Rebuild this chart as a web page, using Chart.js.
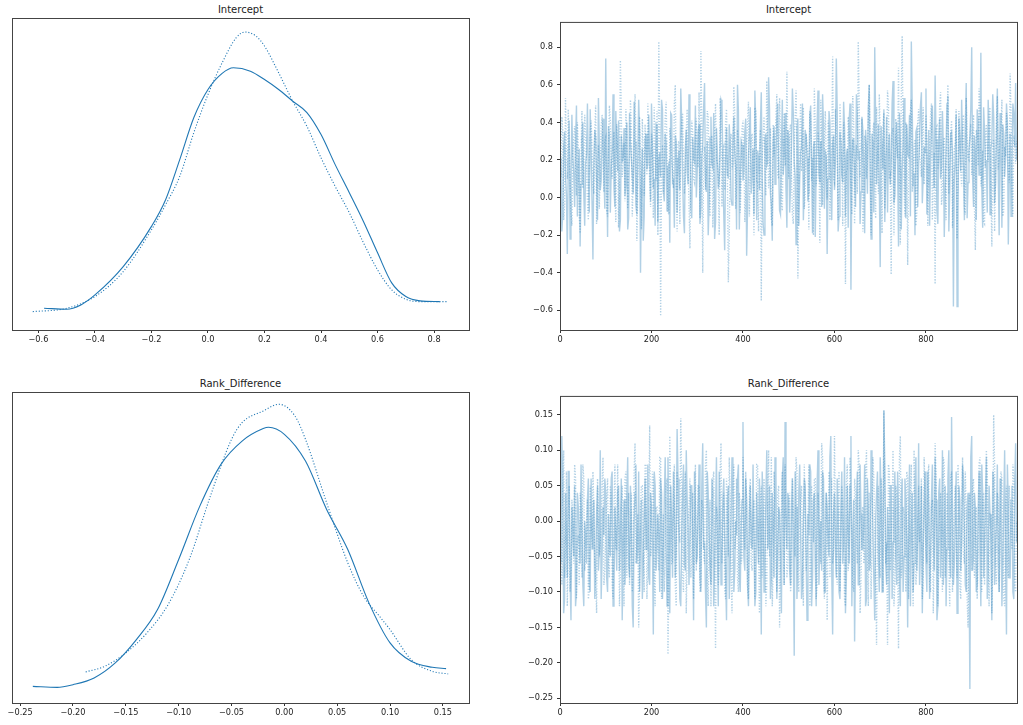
<!DOCTYPE html>
<html>
<head>
<meta charset="utf-8">
<script src="https://cdn.jsdelivr.net/npm/chart.js@4.4.1/dist/chart.umd.min.js"></script>
<style>
  html, body { margin: 0; padding: 0; background: #fff; width: 1023px; height: 725px; overflow: hidden; }
  .panel { position: absolute; }
  .title { position: absolute; text-align: center; font: 10px "DejaVu Sans", sans-serif; color: #222; line-height: 12px; white-space: nowrap; }
</style>
</head>
<body>
<div class="title" style="left:12px;width:457px;top:4px">Intercept</div>
<div class="title" style="left:560px;width:457px;top:4px">Intercept</div>
<div class="title" style="left:12px;width:457px;top:378px">Rank_Difference</div>
<div class="title" style="left:560px;width:457px;top:378px">Rank_Difference</div>
<canvas id="kde-intercept" class="panel"></canvas>
<canvas id="trace-intercept" class="panel"></canvas>
<canvas id="kde-rank" class="panel"></canvas>
<canvas id="trace-rank" class="panel"></canvas>
<script>
// tick positions
const kdeTicksIntercept = [-0.6, -0.4, -0.2, 0, 0.2, 0.4, 0.6, 0.8];
const kdeTicksRank = [-0.25, -0.2, -0.15, -0.1, -0.05, 0, 0.05, 0.1, 0.15];
const traceXTicks = [0, 200, 400, 600, 800];
const traceYTicksIntercept = [-0.6, -0.4, -0.2, 0, 0.2, 0.4, 0.6, 0.8];
const traceYTicksRank = [-0.25, -0.2, -0.15, -0.1, -0.05, 0, 0.05, 0.1, 0.15];

// KDE, Intercept (chain 0 solid, chain 1 dotted)
const interceptKdeX0 = [-0.58, -0.5, -0.45, -0.4, -0.3, -0.2, -0.15, -0.1, -0.05, 0.0, 0.05, 0.09, 0.15, 0.2, 0.25, 0.3, 0.35, 0.4, 0.45, 0.5, 0.55, 0.6, 0.65, 0.7, 0.75, 0.82];
const interceptKdeY0 = [0.056, 0.049, 0.081, 0.155, 0.365, 0.663, 0.861, 1.158, 1.470, 1.678, 1.797, 1.839, 1.814, 1.752, 1.678, 1.591, 1.507, 1.344, 1.121, 0.913, 0.700, 0.467, 0.244, 0.143, 0.111, 0.105];
const interceptKdeX1 = [-0.62, -0.5, -0.4, -0.3, -0.2, -0.15, -0.1, -0.05, 0.0, 0.05, 0.1, 0.13, 0.17, 0.2, 0.25, 0.3, 0.35, 0.4, 0.45, 0.5, 0.55, 0.6, 0.65, 0.7, 0.75, 0.85];
const interceptKdeY1 = [0.031, 0.056, 0.143, 0.328, 0.638, 0.824, 1.034, 1.359, 1.641, 1.876, 2.062, 2.104, 2.074, 2.0, 1.802, 1.591, 1.405, 1.171, 0.960, 0.764, 0.542, 0.341, 0.192, 0.123, 0.105, 0.105];

// KDE, Rank_Difference
const rankKdeX0 = [-0.238, -0.215, -0.2, -0.18, -0.16, -0.14, -0.12, -0.1, -0.08, -0.06, -0.04, -0.02, -0.015, 0.0, 0.02, 0.04, 0.06, 0.08, 0.1, 0.12, 0.14, 0.153];
const rankKdeY0 = [0.053, 0.032, 0.089, 0.232, 0.550, 1.046, 1.683, 2.746, 3.878, 4.764, 5.259, 5.523, 5.551, 5.402, 4.834, 3.808, 2.958, 1.825, 0.975, 0.584, 0.457, 0.429];
const rankKdeX1 = [-0.188, -0.17, -0.15, -0.13, -0.11, -0.09, -0.07, -0.05, -0.04, -0.02, -0.005, 0.01, 0.02, 0.04, 0.06, 0.075, 0.09, 0.1, 0.12, 0.14, 0.155];
const rankKdeY1 = [0.359, 0.478, 0.763, 1.188, 1.789, 2.746, 4.091, 5.296, 5.650, 5.897, 6.039, 5.791, 5.296, 3.950, 2.675, 1.966, 1.541, 1.258, 0.621, 0.372, 0.317];

// traces: "Even" arrays are draws 0, 4, 8, ... and "Odd" arrays are draws 2, 6, 10, ...
const drawStep = 4;
const interceptTrace0Even = [
  0.05,-0.18,0.27,0.12,-0.3,0.41,0.08,0.22,-0.05,0.49,0.15,-0.26,0.31,0.02,0.18,0.5,-0.08,0.24,-0.33,0.36,0.1,0.53,0.04,0.29,0.12,
  0.74,-0.21,0.33,0.15,0.55,-0.05,0.28,0.41,-0.12,0.19,0.37,0.06,-0.17,0.45,0.21,0.02,0.3,-0.09,0.52,-0.4,0.26,-0.1,0.34,0.18,0.22,
  0.5,0.05,-0.15,0.38,0.2,0.11,0.47,-0.02,0.29,0.16,-0.24,0.44,0.09,0.33,-0.08,0.25,0.58,0.12,-0.19,0.36,0.07,0.3,-0.11,0.21,0.49,
  0.14,0.39,-0.06,0.27,0.61,0.03,-0.2,0.32,0.18,0.45,-0.13,0.24,0.08,0.52,0.19,-0.28,0.37,0.11,0.26,-0.04,0.43,0.16,0.6,-0.17,0.3,
  0.09,0.35,-0.31,0.22,0.48,0.13,-0.09,0.4,0.25,0.04,0.56,-0.14,0.31,0.17,0.64,0.02,-0.23,0.38,0.2,0.5,-0.07,0.28,0.12,0.45,-0.16,
  0.33,0.06,0.58,0.19,-0.25,0.42,0.1,0.27,-0.12,0.36,0.21,0.03,0.49,-0.19,0.3,0.14,0.57,0.08,-0.05,0.39,0.24,-0.3,0.46,0.15,0.29,
  0.04,0.74,-0.18,0.35,0.12,0.51,-0.1,0.26,0.41,-0.49,0.31,0.09,0.55,0.2,-0.14,0.43,0.16,0.36,0.02,0.6,-0.22,0.28,0.8,0.07,0.39,
  -0.37,0.25,0.47,0.11,-0.08,0.34,0.19,0.62,0.01,0.4,-0.26,0.3,0.15,0.53,-0.11,0.23,0.44,0.83,0.06,-0.2,0.37,0.18,0.49,-0.03,0.27,
  0.58,0.13,-0.15,0.39,0.22,0.65,-0.07,0.31,0.1,0.46,-0.21,0.27,0.54,0.05,0.35,-0.58,0.2,-0.58,0.42,0.14,0.29,-0.12,0.61,0.08,0.33,
  0.8,-0.05,0.24,0.47,0.12,0.77,-0.16,0.36,0.2,0.52,-0.09,0.3,0.43,0.07,0.58,-0.2,0.26,0.39,0.11,0.5,-0.25,0.34,0.17,0.45,0.61
];
const interceptTrace0Odd = [
  0.21,-0.09,0.35,0.02,0.18,-0.22,0.44,0.13,0.3,-0.1,0.26,0.07,0.4,-0.15,0.23,0.11,0.47,-0.02,0.19,0.32,-0.12,0.28,0.09,0.42,-0.06,
  0.17,0.38,-0.08,0.25,0.05,0.46,0.14,-0.18,0.33,0.22,0.01,0.4,-0.11,0.29,0.12,0.51,-0.04,0.2,0.36,0.06,-0.23,0.31,0.15,0.44,-0.02,
  0.27,0.1,0.39,-0.13,0.24,0.52,0.03,0.34,-0.07,0.18,0.45,0.08,-0.16,0.3,0.21,0.04,0.41,-0.1,0.26,0.14,0.55,-0.05,0.32,0.19,0.0,
  0.35,-0.14,0.22,0.48,0.09,0.3,-0.03,0.43,0.16,-0.22,0.37,0.05,0.27,0.5,-0.09,0.2,0.12,0.39,-0.01,0.31,0.24,-0.17,0.46,0.08,0.28,
  0.15,0.42,-0.06,0.33,0.02,0.26,0.57,-0.12,0.21,0.38,0.1,-0.2,0.34,0.19,0.47,-0.04,0.29,0.07,0.41,0.16,-0.09,0.52,0.23,0.05,0.36,
  -0.08,0.28,0.45,0.11,0.37,-0.15,0.24,0.5,0.06,0.32,-0.02,0.43,0.17,0.27,-0.21,0.39,0.13,0.3,0.55,-0.06,0.22,0.1,0.4,-0.12,0.33,
  0.19,0.46,-0.1,0.29,0.08,0.37,0.22,-0.16,0.5,0.14,0.31,-0.05,0.44,0.25,0.03,0.36,-0.19,0.27,0.48,0.12,0.34,-0.08,0.41,0.2,0.06,
  0.38,0.15,-0.13,0.43,0.26,0.07,0.5,-0.03,0.32,0.18,0.45,-0.17,0.28,0.09,0.39,0.22,-0.1,0.47,0.13,0.35,-0.05,0.3,0.56,0.11,0.24,
  -0.09,0.36,0.2,0.49,0.05,0.31,-0.14,0.42,0.17,0.27,0.03,0.5,-0.18,0.34,0.23,0.1,0.44,-0.07,0.29,0.52,0.15,0.38,-0.11,0.25,0.47,
  0.1,0.33,-0.12,0.41,0.22,0.05,0.48,0.16,-0.08,0.37,0.26,0.55,-0.03,0.3,0.14,0.45,-0.16,0.34,0.21,0.4,0.09,-0.1,0.5,0.27,0.2
];
const interceptTrace1Even = [
  0.2,0.43,-0.12,0.53,0.1,0.3,-0.07,0.24,0.38,0.01,0.27,-0.19,0.46,0.14,0.33,-0.02,0.22,0.41,0.06,0.35,-0.14,0.28,0.17,0.44,0.03,
  0.32,-0.1,0.49,0.18,0.26,0.04,0.39,-0.16,0.73,0.11,0.29,0.47,-0.06,0.21,0.36,0.08,0.55,-0.23,0.3,0.15,0.42,0.01,0.25,0.5,0.09,
  0.34,-0.11,0.22,0.46,0.83,-0.63,0.28,0.13,0.51,-0.08,0.37,0.19,0.05,0.6,-0.18,0.3,0.24,0.45,0.02,0.35,0.16,-0.27,0.41,0.1,0.31,
  0.2,0.56,0.78,-0.4,0.27,0.12,0.43,-0.1,0.33,0.07,0.5,0.18,-0.2,0.38,0.25,0.04,0.47,-0.45,0.3,0.15,0.59,-0.06,0.36,0.22,0.09,
  0.41,-0.13,0.28,0.51,0.16,0.34,-0.2,0.46,0.08,0.25,-0.55,0.3,0.19,0.62,0.05,0.37,-0.15,0.22,0.43,0.12,0.53,-0.03,0.31,0.17,0.67,
  0.1,0.39,-0.09,0.26,0.57,-0.43,0.33,0.14,0.48,0.02,0.29,-0.17,0.44,0.21,0.58,0.06,0.35,-0.24,0.27,0.12,0.46,-0.01,0.37,0.19,0.75,
  0.08,0.31,-0.12,0.5,0.23,0.4,-0.46,0.15,0.34,0.06,0.54,-0.14,0.28,0.83,0.11,0.42,-0.07,0.3,0.19,0.6,-0.2,0.36,0.13,0.48,0.02,
  0.33,-0.19,0.45,0.22,0.57,0.1,-0.41,0.37,0.16,0.28,0.69,-0.25,0.86,0.05,0.4,-0.36,0.24,0.52,0.13,0.31,-0.08,0.47,0.19,0.35,0.07,
  0.44,-0.15,0.27,0.5,0.11,-0.46,0.38,0.2,0.56,0.03,0.32,-0.12,0.6,0.17,0.41,0.08,0.29,-0.22,0.46,0.14,0.35,-0.05,0.53,0.21,0.3,
  0.12,0.44,-0.28,0.33,0.58,0.06,0.25,-0.14,0.39,0.19,0.48,-0.26,0.31,0.09,0.54,0.22,0.36,-0.1,0.27,0.45,0.14,0.66,0.05,0.33,0.18
];
const interceptTrace1Odd = [
  0.11,0.36,-0.04,0.25,0.47,0.08,-0.15,0.32,0.19,0.4,-0.09,0.23,0.05,0.44,0.17,-0.12,0.34,0.27,0.02,0.49,0.13,-0.06,0.38,0.21,0.3,
  -0.07,0.24,0.41,0.1,0.35,-0.13,0.28,0.06,0.45,0.2,-0.02,0.37,0.15,0.52,-0.1,0.26,0.33,0.04,0.43,-0.17,0.22,0.39,0.12,0.3,-0.05,
  0.27,0.48,0.09,-0.2,0.36,0.17,0.02,0.43,0.25,-0.09,0.32,0.14,0.5,0.07,0.29,-0.14,0.4,0.2,0.11,0.47,-0.03,0.26,0.35,0.08,0.42,
  0.16,-0.11,0.38,0.23,0.04,0.46,0.13,0.3,-0.16,0.35,0.21,0.09,0.53,-0.05,0.27,0.4,0.12,-0.21,0.34,0.18,0.44,0.06,0.29,-0.08,0.37,
  0.24,0.05,0.4,-0.1,0.31,0.17,0.48,0.08,-0.18,0.36,0.22,0.43,0.01,0.28,0.14,-0.12,0.39,0.25,0.55,0.1,0.33,-0.07,0.45,0.19,0.26,
  0.35,0.12,-0.14,0.42,0.27,0.03,0.5,0.18,-0.06,0.34,0.23,0.46,0.09,-0.2,0.38,0.15,0.29,0.52,-0.04,0.31,0.2,0.41,-0.12,0.26,0.1,
  0.47,0.22,0.05,0.36,-0.15,0.29,0.14,0.43,0.26,-0.09,0.39,0.18,0.02,0.51,0.24,-0.18,0.33,0.1,0.45,0.28,0.07,0.4,-0.11,0.3,0.55,
  0.16,0.38,-0.06,0.25,0.49,0.12,0.34,-0.2,0.42,0.21,0.06,0.53,0.3,-0.1,0.37,0.18,0.46,0.03,0.27,-0.15,0.4,0.22,0.11,0.48,0.26,
  0.31,0.08,0.43,-0.12,0.24,0.37,0.15,0.5,-0.04,0.28,0.19,0.41,0.02,0.35,-0.16,0.26,0.47,0.12,0.33,0.06,0.44,-0.09,0.3,0.2,0.39,
  0.25,-0.05,0.36,0.17,0.48,0.1,-0.13,0.32,0.23,0.45,0.04,0.29,-0.18,0.4,0.15,0.34,0.52,-0.07,0.22,0.37,0.08,0.43,-0.1,0.28,0.3
];
const rankTrace0Even = [
  -0.03,0.12,-0.13,0.04,-0.08,0.07,-0.14,-0.01,0.05,-0.1,0.02,-0.06,0.08,-0.12,-0.02,0.03,-0.09,0.06,-0.04,-0.11,0.01,-0.07,0.1,-0.05,-0.02,
  0.04,-0.1,-0.03,0.06,-0.12,0.02,-0.07,0.05,-0.01,-0.14,0.03,-0.05,0.09,-0.08,0.0,-0.15,0.04,-0.06,0.07,-0.02,-0.11,0.01,-0.04,0.08,-0.09,
  0.02,-0.16,0.05,-0.07,-0.02,0.06,-0.11,0.03,-0.04,0.09,-0.13,0.0,0.07,-0.08,0.13,-0.03,-0.12,0.04,-0.06,0.1,-0.01,-0.09,0.05,-0.14,0.02,
  -0.05,0.08,-0.1,0.11,-0.03,-0.15,0.04,-0.07,0.06,-0.12,0.01,-0.04,0.07,-0.09,0.03,-0.02,-0.14,0.05,-0.06,0.09,-0.1,0.0,0.06,-0.08,-0.01,
  0.14,-0.07,0.03,-0.12,0.05,-0.04,0.08,-0.1,-0.02,0.06,-0.16,0.02,-0.06,0.1,-0.03,-0.11,0.04,-0.08,0.07,-0.05,0.01,-0.13,0.09,0.14,-0.04,
  0.03,-0.09,0.06,-0.19,0.02,-0.06,0.08,-0.11,0.0,0.05,-0.14,-0.02,0.07,-0.08,0.04,-0.12,0.1,-0.03,-0.07,0.06,-0.1,0.02,-0.05,0.12,-0.16,
  0.04,-0.08,0.01,-0.11,0.07,-0.03,-0.13,0.05,-0.06,0.12,-0.02,-0.17,0.03,-0.09,0.08,-0.04,0.0,-0.12,0.06,-0.07,0.1,-0.01,-0.14,0.04,-0.05,
  0.09,-0.1,0.155,-0.06,0.02,-0.13,0.05,-0.03,0.07,-0.09,0.01,-0.12,0.06,-0.05,0.03,-0.15,0.08,-0.02,-0.1,0.05,-0.07,0.11,-0.04,-0.13,0.02,
  -0.06,0.07,-0.11,0.03,-0.02,0.09,-0.14,0.04,-0.08,0.1,-0.03,-0.12,0.06,-0.05,0.147,-0.09,0.01,-0.13,0.05,-0.07,0.08,-0.01,-0.1,0.04,-0.237,
  0.12,-0.05,0.02,-0.09,0.07,-0.12,0.04,-0.03,0.09,-0.07,0.01,-0.14,0.06,-0.04,0.08,-0.1,0.03,-0.06,0.1,-0.16,0.02,-0.08,0.05,-0.11,0.11
];
const rankTrace0Odd = [
  -0.06,0.05,-0.11,-0.02,0.07,-0.08,0.02,-0.05,-0.12,0.04,-0.03,0.08,-0.09,0.0,-0.06,0.06,-0.1,-0.01,0.03,-0.07,0.05,-0.04,-0.11,0.02,0.06,
  -0.08,0.01,-0.05,0.07,-0.1,-0.02,0.04,-0.07,0.06,-0.03,-0.09,0.03,-0.06,0.05,-0.12,0.0,0.08,-0.04,-0.1,0.03,-0.06,0.06,-0.02,-0.08,0.04,
  -0.03,0.07,-0.07,0.01,-0.1,0.04,-0.05,0.09,-0.12,-0.01,0.05,-0.08,0.02,-0.04,0.06,-0.11,-0.02,0.08,-0.07,0.03,-0.09,0.05,-0.03,0.07,-0.06,
  0.02,-0.08,0.05,-0.04,-0.1,0.07,-0.02,-0.09,0.04,-0.06,0.09,-0.12,0.01,-0.05,0.06,-0.08,0.03,-0.11,0.0,0.05,-0.07,-0.02,0.08,-0.1,0.03,
  -0.05,0.06,-0.09,0.01,-0.03,0.08,-0.12,0.04,-0.06,-0.01,0.07,-0.1,0.03,-0.04,0.05,-0.08,0.0,0.09,-0.11,0.02,-0.05,0.06,-0.09,0.01,0.04,
  -0.07,0.02,-0.04,0.07,-0.11,0.04,-0.02,-0.09,0.06,-0.05,0.01,0.08,-0.12,0.03,-0.06,0.05,-0.09,0.0,0.07,-0.1,0.04,-0.03,0.09,-0.07,0.01,
  -0.04,0.06,-0.1,0.02,-0.06,0.09,-0.08,-0.01,0.05,-0.12,0.03,-0.05,0.07,-0.09,0.01,-0.04,0.08,-0.11,0.02,-0.06,0.05,-0.08,0.0,0.07,-0.1,
  0.03,-0.06,0.08,-0.09,-0.02,0.05,-0.11,0.01,-0.05,0.07,-0.08,0.03,-0.1,0.06,-0.03,0.0,-0.12,0.04,-0.06,0.09,-0.02,-0.09,0.05,-0.04,0.07,
  -0.1,0.02,-0.05,0.08,-0.07,0.03,-0.12,0.06,-0.02,-0.09,0.05,-0.04,0.1,-0.08,0.01,-0.06,0.07,-0.11,0.03,-0.03,0.06,-0.09,0.02,-0.05,0.09,
  -0.07,0.04,-0.1,0.01,-0.04,0.08,-0.08,0.03,-0.11,0.05,-0.02,0.07,-0.09,0.0,-0.06,0.06,-0.12,0.02,-0.05,0.08,-0.08,0.03,-0.1,0.05,-0.03
];
const rankTrace1Even = [
  0.02,-0.09,0.1,-0.04,-0.12,0.05,-0.07,0.01,0.08,-0.11,-0.02,0.04,-0.08,0.06,-0.05,0.03,-0.1,0.0,0.07,-0.06,-0.13,0.02,-0.03,0.05,-0.09,
  -0.01,0.06,-0.08,0.03,-0.11,0.08,-0.04,0.01,-0.07,0.05,-0.12,0.07,-0.02,-0.09,0.04,-0.06,0.11,-0.03,-0.15,0.02,0.05,-0.1,0.08,-0.05,0.135,
  -0.04,0.06,-0.12,0.02,-0.07,0.09,-0.02,-0.1,0.05,-0.188,0.12,-0.06,0.03,-0.09,0.07,-0.01,0.145,-0.08,0.04,-0.13,0.0,0.06,-0.05,-0.11,0.08,
  -0.03,0.05,-0.09,0.02,-0.06,0.1,-0.12,0.03,-0.04,0.07,-0.18,0.01,-0.07,0.11,-0.02,-0.1,0.06,-0.05,0.03,-0.13,0.08,-0.01,-0.08,0.04,-0.06,
  0.09,-0.04,0.02,-0.11,0.06,-0.07,0.03,-0.02,0.08,-0.13,0.05,-0.05,0.01,-0.09,0.1,-0.03,-0.12,0.07,-0.06,0.04,-0.15,0.02,-0.04,0.08,-0.08,
  0.03,-0.1,0.06,-0.03,0.09,-0.07,-0.01,0.05,-0.12,0.02,-0.05,0.08,-0.09,0.0,0.06,-0.11,0.04,-0.04,0.11,-0.08,0.01,-0.14,0.07,-0.02,-0.06,
  0.12,-0.07,0.03,-0.1,0.05,-0.02,-0.12,0.08,-0.05,0.02,-0.09,0.06,-0.03,0.1,-0.13,0.01,-0.06,0.07,-0.04,0.04,-0.11,0.09,-0.01,-0.175,0.05,
  -0.08,0.03,0.157,-0.06,-0.175,0.07,-0.02,0.1,-0.09,0.04,-0.18,0.12,-0.05,0.01,-0.1,0.06,-0.03,0.08,-0.12,0.02,-0.07,0.05,-0.01,-0.11,0.09,
  -0.04,0.06,-0.09,0.02,-0.13,0.11,-0.03,-0.07,0.04,-0.1,0.08,-0.05,0.0,-0.12,0.07,-0.02,0.05,-0.08,0.03,-0.11,0.09,-0.06,0.01,-0.15,0.04,
  -0.07,0.06,-0.02,-0.11,0.08,-0.04,0.03,-0.09,0.1,-0.05,0.01,-0.13,0.15,-0.06,0.04,-0.1,0.07,-0.03,-0.12,0.05,-0.08,0.02,-0.04,0.06,-0.1
];
const rankTrace1Odd = [
  -0.05,0.04,-0.08,0.07,-0.02,-0.1,0.03,-0.06,0.06,-0.03,-0.09,0.02,0.08,-0.07,0.0,-0.11,0.05,-0.04,0.02,-0.08,0.06,-0.05,-0.01,0.09,-0.07,
  0.03,-0.06,0.05,-0.09,0.01,-0.04,0.08,-0.12,0.02,-0.05,0.06,-0.08,0.04,-0.02,-0.1,0.07,-0.06,0.01,-0.09,0.05,-0.03,0.08,-0.11,0.0,-0.05,
  0.07,-0.08,0.02,-0.05,0.09,-0.11,0.01,-0.04,0.06,-0.09,0.03,-0.06,0.08,-0.12,0.0,-0.03,0.05,-0.1,0.07,-0.05,0.02,-0.08,0.04,-0.02,-0.07,
  0.05,-0.1,0.03,-0.05,0.08,-0.08,0.0,-0.12,0.06,-0.03,0.02,-0.09,0.07,-0.06,0.04,-0.11,0.01,0.09,-0.07,0.03,-0.04,0.06,-0.1,0.02,-0.05,
  -0.02,0.07,-0.09,0.04,-0.06,0.01,-0.11,0.08,-0.04,0.03,-0.08,0.06,-0.12,0.02,-0.05,0.09,-0.07,0.0,-0.1,0.05,-0.03,0.07,-0.09,0.01,-0.06,
  0.04,-0.08,0.02,-0.05,0.07,-0.1,0.03,-0.04,0.08,-0.07,0.0,-0.12,0.05,-0.03,0.06,-0.09,0.02,-0.06,0.09,-0.11,0.04,-0.02,-0.08,0.06,-0.04,
  0.01,-0.09,0.07,-0.04,0.03,-0.11,0.05,-0.07,0.09,-0.02,-0.1,0.04,-0.06,0.08,-0.08,0.02,-0.05,0.1,-0.12,0.03,-0.03,0.06,-0.09,0.0,-0.06,
  0.06,-0.1,0.04,-0.03,0.08,-0.07,0.01,-0.12,0.05,-0.05,0.09,-0.08,0.02,-0.04,0.07,-0.11,0.03,-0.06,0.1,-0.09,0.0,-0.03,0.06,-0.08,0.04,
  -0.06,0.08,-0.1,0.03,-0.05,0.07,-0.12,0.01,-0.03,0.09,-0.08,0.04,-0.06,0.06,-0.1,0.02,-0.04,0.08,-0.09,0.0,-0.05,0.07,-0.11,0.03,-0.02,
  0.05,-0.08,0.02,-0.05,0.09,-0.1,0.04,-0.03,0.07,-0.12,0.01,-0.06,0.08,-0.09,0.03,-0.04,0.06,-0.11,0.02,-0.07,0.05,-0.02,0.08,-0.09,0.0
];

const C0 = '#1f77b4';
const TRACE_COLOR = 'rgba(31, 119, 180, 0.35)';
const tickFont = { family: 'DejaVu Sans', size: 8.2 };

// matplotlib style labels, with a real minus sign
function fmt(decimals) {
    return v => (v < 0 ? '\u2212' : '') + Math.abs(v).toFixed(decimals);
}

// all four spines like matplotlib
const spines = {
    id: 'spines',
    afterDatasetsDraw(chart) {
        const { ctx, chartArea: a } = chart;
        ctx.save();
        ctx.strokeStyle = '#444';
        ctx.lineWidth = 1;
        ctx.strokeRect(a.left + 0.5, a.top + 0.5, a.right - a.left, a.bottom - a.top);
        ctx.restore();
    }
};

function xAxis(min, max, ticks, decimals) {
    return {
        type: 'linear',
        min: min,
        max: max,
        afterBuildTicks: axis => { axis.ticks = ticks.map(v => ({ value: v })); },
        afterFit: axis => { axis.height = 20; },
        ticks: { font: tickFont, color: '#222', padding: 2, maxRotation: 0, autoSkip: false, callback: fmt(decimals) },
        grid: { drawOnChartArea: false, drawTicks: true, tickLength: 3, color: '#333' },
        border: { display: false }
    };
}

function traceY(min, max, ticks, decimals) {
    return {
        type: 'linear',
        min: min,
        max: max,
        afterBuildTicks: axis => { axis.ticks = ticks.map(v => ({ value: v })); },
        afterFit: axis => { axis.width = 50; },
        ticks: { font: tickFont, color: '#222', padding: 4, callback: fmt(decimals) },
        grid: { drawOnChartArea: false, drawTicks: true, tickLength: 3, color: '#333' },
        border: { display: false }
    };
}

function makePanel(id, box, datasets, scales, padLeft) {
    const [l, t, r, b] = box;
    const canvas = document.getElementById(id);
    canvas.width = r - l + 60;
    canvas.height = b - t + 25;
    canvas.style.left = (l - 50) + 'px';
    canvas.style.top = (t - 5) + 'px';
    new Chart(canvas.getContext('2d'), {
        type: 'line',
        data: { datasets: datasets },
        options: {
            responsive: false,
            devicePixelRatio: 1,
            animation: false,
            events: [],
            layout: { padding: { left: padLeft, top: 5, right: 10, bottom: 0 } },
            plugins: { legend: { display: false }, tooltip: { enabled: false } },
            scales: scales
        },
        plugins: [spines]
    });
}

function kdeSet(xs, ys, dotted) {
    return {
        data: xs.map((x, i) => ({ x: x, y: ys[i] })),
        borderColor: C0,
        borderWidth: 1.1,
        borderDash: dotted ? [1.1, 1.9] : [],
        pointRadius: 0,
        fill: false,
        cubicInterpolationMode: 'monotone'
    };
}

// put the even and odd draws back in draw order
function traceSet(even, odd, dotted) {
    const pts = [];
    even.forEach((v, i) => {
        pts.push({ x: i * drawStep, y: v });
        if (odd[i] !== undefined) pts.push({ x: i * drawStep + drawStep / 2, y: odd[i] });
    });
    return {
        data: pts,
        borderColor: TRACE_COLOR,
        borderWidth: 1.4,
        borderDash: dotted ? [1.2, 1.6] : [],
        pointRadius: 0,
        fill: false,
        tension: 0
    };
}

// Intercept
makePanel('kde-intercept', [12, 18, 469, 330],
    [kdeSet(interceptKdeX0, interceptKdeY0, false), kdeSet(interceptKdeX1, interceptKdeY1, true)],
    { x: xAxis(-0.6935, 0.9235, kdeTicksIntercept, 1), y: { display: false, min: -0.105, max: 2.208 } }, 50);

makePanel('trace-intercept', [560, 18, 1017, 330],
    [traceSet(interceptTrace0Even, interceptTrace0Odd, false), traceSet(interceptTrace1Even, interceptTrace1Odd, true)],
    { x: xAxis(0, 999, traceXTicks, 0), y: traceY(-0.7045, 0.9345, traceYTicksIntercept, 1) }, 0);

// Rank_Difference
makePanel('kde-rank', [12, 392, 469, 703],
    [kdeSet(rankKdeX0, rankKdeY0, false), kdeSet(rankKdeX1, rankKdeY1, true)],
    { x: xAxis(-0.2577, 0.1747, kdeTicksRank, 2), y: { display: false, min: -0.30, max: 6.30 } }, 50);

makePanel('trace-rank', [560, 392, 1017, 703],
    [traceSet(rankTrace0Even, rankTrace0Odd, false), traceSet(rankTrace1Even, rankTrace1Odd, true)],
    { x: xAxis(0, 999, traceXTicks, 0), y: traceY(-0.2567, 0.1767, traceYTicksRank, 2) }, 0);
</script>
</body>
</html>
